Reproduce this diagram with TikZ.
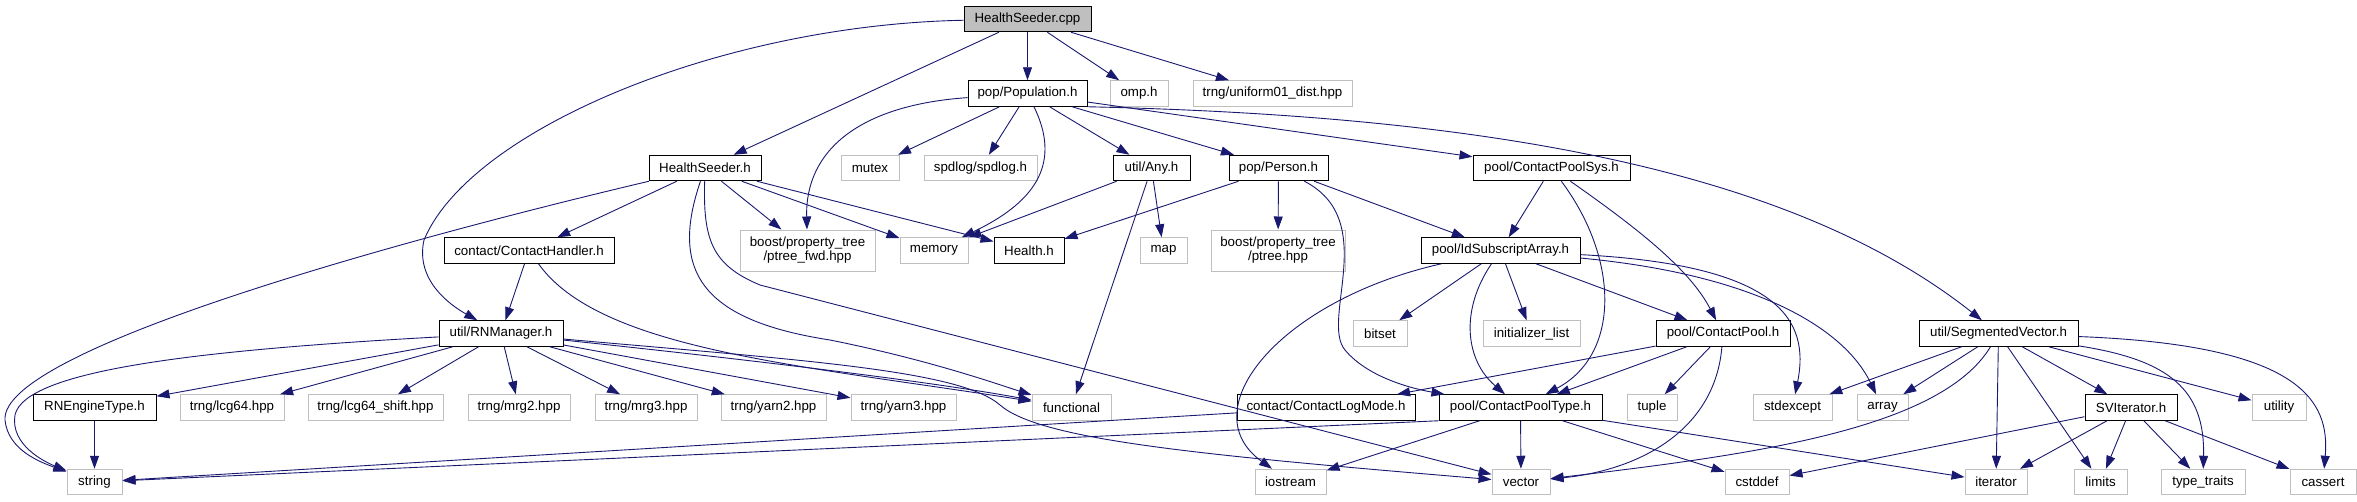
\documentclass[tikz,border=0pt]{standalone}
\usepackage{fontspec}
\setmainfont{Liberation Sans}
\usetikzlibrary{arrows.meta}
\definecolor{edgeblue}{HTML}{191970}
\definecolor{extgray}{HTML}{BFBFBF}

\begin{document}
\begin{tikzpicture}[x=1pt,y=-1pt,
  file/.style={draw=black,line width=1pt,minimum height=25.5pt,inner sep=0pt,font=\fontsize{13.3}{14}\selectfont,align=center},
  ext/.style={file,draw=extgray},
  dep/.style={-{Triangle[length=13pt,width=9pt]},edgeblue,line width=0.9pt}]
  \useasboundingbox (0,0) rectangle (2357,501);

  % top levels
  \node[file,fill=extgray,minimum width=127pt] (cpp) at (1027.5,19) {HealthSeeder.cpp};
  \node[file,minimum width=119pt] (pop) at (1027.5,93.5) {pop/Population.h};
  \node[ext,minimum width=58pt] (omp) at (1139,93.5) {omp.h};
  \node[ext,minimum width=159pt] (unif) at (1272.5,93.5) {trng/uniform01\_dist.hpp};

  \node[file,minimum width=112pt] (hsh) at (705,168) {HealthSeeder.h};
  \node[ext,minimum width=58pt] (mutex) at (870,168) {mutex};
  \node[ext,minimum width=113pt] (spdlog) at (980.5,168) {spdlog/spdlog.h};
  \node[file,minimum width=77pt] (any) at (1151.5,168) {util/Any.h};
  \node[file,minimum width=99pt] (person) at (1278.5,168) {pop/Person.h};
  \node[file,minimum width=157pt] (cpsys) at (1551.5,168) {pool/ContactPoolSys.h};

  \node[file,minimum width=170pt] (chandler) at (529,250.5) {contact/ContactHandler.h};
  \node[ext,minimum width=135pt,minimum height=41pt] (ptreefwd) at (807.5,250.5) {boost/property\_tree\\/ptree\_fwd.hpp};
  \node[ext,minimum width=68pt] (memory) at (934,250.5) {memory};
  \node[file,minimum width=70pt] (health) at (1029,250.5) {Health.h};
  \node[ext,minimum width=47pt] (map) at (1163.5,250.5) {map};
  \node[ext,minimum width=134pt,minimum height=41pt] (ptree) at (1278,250.5) {boost/property\_tree\\/ptree.hpp};
  \node[file,minimum width=159pt] (idsub) at (1500.5,250.5) {pool/IdSubscriptArray.h};

  \node[file,minimum width=124pt] (rnman) at (501,333.5) {util/RNManager.h};
  \node[ext,minimum width=54pt] (bitset) at (1380,333.5) {bitset};
  \node[ext,minimum width=97pt] (initlist) at (1531.5,333.5) {initializer\_list};
  \node[file,minimum width=134pt] (cpool) at (1723,333.5) {pool/ContactPool.h};
  \node[file,minimum width=159pt] (segvec) at (1998.5,333.5) {util/SegmentedVector.h};

  % fifth row
  \node[file,minimum width=123pt] (rneng) at (94.5,407.5) {RNEngineType.h};
  \node[ext,minimum width=104pt] (lcg) at (232,407.5) {trng/lcg64.hpp};
  \node[ext,minimum width=135pt] (lcgshift) at (375.5,407.5) {trng/lcg64\_shift.hpp};
  \node[ext,minimum width=102pt] (mrgtwo) at (519,407.5) {trng/mrg2.hpp};
  \node[ext,minimum width=102pt] (mrgthree) at (646,407.5) {trng/mrg3.hpp};
  \node[ext,minimum width=105pt] (yarntwo) at (773.5,407.5) {trng/yarn2.hpp};
  \node[ext,minimum width=105pt] (yarnthree) at (903.5,407.5) {trng/yarn3.hpp};
  \node[ext,minimum width=79pt] (functional) at (1071.5,407.5) {functional};
  \node[file,minimum width=178pt] (clog) at (1326,407.5) {contact/ContactLogMode.h};
  \node[file,minimum width=163pt] (cptype) at (1520.5,407.5) {pool/ContactPoolType.h};
  \node[ext,minimum width=50pt] (tuple) at (1652,407.5) {tuple};
  \node[ext,minimum width=79pt] (stdexc) at (1792.5,407.5) {stdexcept};
  \node[ext,minimum width=51pt] (array) at (1882.5,407.5) {array};
  \node[file,minimum width=92pt] (sviter) at (2131,407.5) {SVIterator.h};
  \node[ext,minimum width=54pt] (utility) at (2279,407.5) {utility};

  % bottom row
  \node[ext,minimum width=55pt] (string) at (94.5,482) {string};
  \node[ext,minimum width=71pt] (iostream) at (1290.5,482) {iostream};
  \node[ext,minimum width=58pt] (vector) at (1521,482) {vector};
  \node[ext,minimum width=64pt] (cstddef) at (1757,482) {cstddef};
  \node[ext,minimum width=62pt] (iterator) at (1996,482) {iterator};
  \node[ext,minimum width=53pt] (limits) at (2100.5,482) {limits};
  \node[ext,minimum width=84pt] (typetraits) at (2203,482) {type\_traits};
  \node[ext,minimum width=66pt] (cassert) at (2323,482) {cassert};

  % HealthSeeder.cpp
  \draw[dep] (cpp) -- (hsh);
  \draw[dep] (cpp) -- (pop);
  \draw[dep] (cpp) -- (omp);
  \draw[dep] (cpp) -- (unif);
  \draw[dep] (cpp) .. controls (720,25) and (470,130) .. (424,240) .. controls (415,280) and (450,305) .. (rnman);

  % pop/Population.h
  \draw[dep] (pop) .. controls (860,105) and (805,150) .. (ptreefwd);
  \draw[dep] (pop) -- (mutex);
  \draw[dep] (pop) -- (spdlog);
  \draw[dep] (pop) .. controls (1060,160) and (1040,200) .. (memory);
  \draw[dep] (pop) -- (any);
  \draw[dep] (pop) -- (person);
  \draw[dep] (pop) -- (cpsys);
  \draw[dep] (pop.south east) .. controls (1450,115) and (1780,160) .. (segvec);

  % HealthSeeder.h
  \draw[dep] (hsh) .. controls (400,240) and (0,350) .. (5,420) .. controls (8,450) and (40,462) .. (string);
  \draw[dep] (hsh) -- (chandler);
  \draw[dep] (hsh) .. controls (670,270) and (700,320) .. (830,340) .. controls (930,360) and (1000,385) .. (functional);
  \draw[dep] (hsh) .. controls (703,240) and (712,265) .. (760,285) -- (vector);
  \draw[dep] (hsh) -- (ptreefwd);
  \draw[dep] (hsh) -- (memory);
  \draw[dep] (hsh) -- (health);

  % util/Any.h, pop/Person.h
  \draw[dep] (any) -- (memory);
  \draw[dep] (any) -- (map);
  \draw[dep] (any) -- (functional);
  \draw[dep] (person) -- (health);
  \draw[dep] (person) -- (ptree);
  \draw[dep] (person) -- (idsub);
  \draw[dep] (person) .. controls (1380,220) and (1320,320) .. (1345,350) .. controls (1370,380) and (1420,390) .. (cptype);

  % pool/ContactPoolSys.h
  \draw[dep] (cpsys) -- (idsub);
  \draw[dep] (cpsys) .. controls (1620,260) and (1620,355) .. (cptype);
  \draw[dep] (cpsys) .. controls (1640,230) and (1690,270) .. (cpool);

  % pool/IdSubscriptArray.h
  \draw[dep] (idsub) .. controls (1280,300) and (1190,410) .. (iostream);
  \draw[dep] (idsub) -- (bitset);
  \draw[dep] (idsub) -- (initlist);
  \draw[dep] (idsub) .. controls (1460,310) and (1465,360) .. (cptype);
  \draw[dep] (idsub) -- (cpool);
  \draw[dep] (idsub) .. controls (1780,265) and (1810,320) .. (stdexc);
  \draw[dep] (idsub) .. controls (1760,275) and (1845,330) .. (array);

  % pool/ContactPool.h
  \draw[dep] (cpool) -- (clog);
  \draw[dep] (cpool) -- (cptype);
  \draw[dep] (cpool) -- (tuple);
  \draw[dep] (cpool) .. controls (1715,430) and (1640,470) .. (vector);

  % contact/ContactLogMode.h, pool/ContactPoolType.h
  \draw[dep] (clog) -- (string);
  \draw[dep] (cptype.south west) -- (string);
  \draw[dep] (cptype) -- (iostream);
  \draw[dep] (cptype) -- (vector);
  \draw[dep] (cptype) -- (cstddef);
  \draw[dep] (cptype) -- (iterator);

  % contact/ContactHandler.h
  \draw[dep] (chandler) -- (rnman);
  \draw[dep] (chandler) .. controls (600,350) and (800,365) .. (functional);

  % util/RNManager.h
  \draw[dep] (rnman) .. controls (200,350) and (25,370) .. (15,415) .. controls (10,445) and (45,462) .. (string);
  \draw[dep] (rnman) -- (rneng);
  \draw[dep] (rnman) -- (lcg);
  \draw[dep] (rnman) -- (lcgshift);
  \draw[dep] (rnman) -- (mrgtwo);
  \draw[dep] (rnman) -- (mrgthree);
  \draw[dep] (rnman) -- (yarntwo);
  \draw[dep] (rnman) -- (yarnthree);
  \draw[dep] (rnman) .. controls (800,365) and (950,385) .. (functional);
  \draw[dep] (rnman) .. controls (800,360) and (960,370) .. (1000,405) .. controls (1040,440) and (1200,455) .. (vector);
  \draw[dep] (rneng) -- (string);

  % util/SegmentedVector.h
  \draw[dep] (segvec) -- (stdexc);
  \draw[dep] (segvec) -- (array);
  \draw[dep] (segvec) .. controls (1940,430) and (1750,455) .. (vector);
  \draw[dep] (segvec) -- (iterator);
  \draw[dep] (segvec) -- (limits);
  \draw[dep] (segvec) -- (sviter);
  \draw[dep] (segvec) -- (utility);
  \draw[dep] (segvec) .. controls (2170,360) and (2205,390) .. (typetraits);
  \draw[dep] (segvec) .. controls (2300,345) and (2330,400) .. (cassert);

  % SVIterator.h
  \draw[dep] (sviter) -- (cstddef);
  \draw[dep] (sviter) -- (iterator);
  \draw[dep] (sviter) -- (limits);
  \draw[dep] (sviter) -- (typetraits);
  \draw[dep] (sviter) -- (cassert);
\end{tikzpicture}
\end{document}
